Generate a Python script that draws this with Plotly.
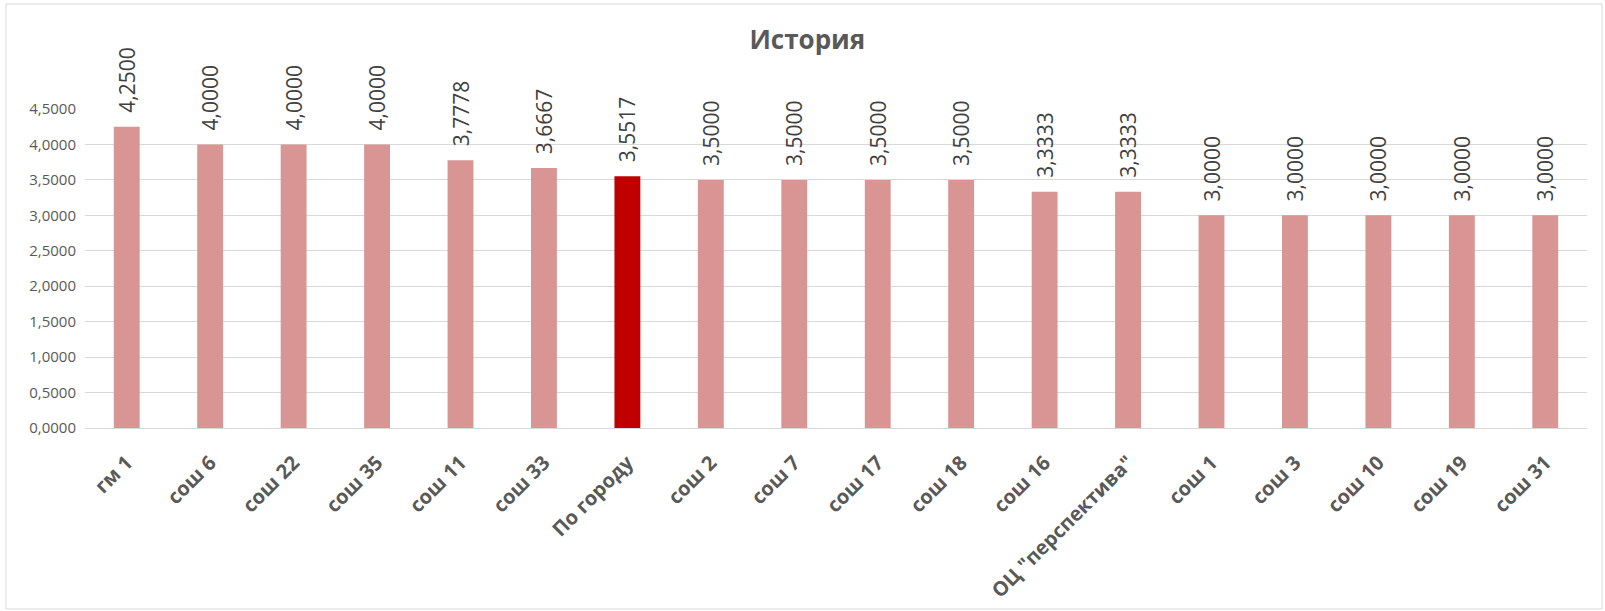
import plotly.graph_objects as go

categories = ["гм 1", "сош 6", "сош 22", "сош 35", "сош 11", "сош 33", "По городу",
              "сош 2", "сош 7", "сош 17", "сош 18", "сош 16", 'ОЦ "перспектива"',
              "сош 1", "сош 3", "сош 10", "сош 19", "сош 31"]
values = [4.25, 4.0, 4.0, 4.0, 3.7778, 3.6667, 3.5517, 3.5, 3.5, 3.5, 3.5,
          3.3333, 3.3333, 3.0, 3.0, 3.0, 3.0, 3.0]
highlight = "По городу"
y_ticks = [0, 0.5, 1.0, 1.5, 2.0, 2.5, 3.0, 3.5, 4.0, 4.5]

W, H = 1605, 611
ml, mr, mt, mb = 85, 18, 109, 183

colors = ["#C00000" if c == highlight else "#D99594" for c in categories]
labels = ["\u00a0\u00a0" + f"{v:.4f}".replace(".", ",") for v in values]

fig = go.Figure()
fig.add_trace(go.Bar(
    x=categories, y=values, marker=dict(color=colors, line=dict(width=0)),
    text=labels, textposition="outside", textangle=-90, cliponaxis=False,
    constraintext="none",
    textfont=dict(family="Open Sans", size=21, color="#404040"),
    hoverinfo="x+y",
))

pw = W - ml - mr
ph = H - mt - mb
fig.add_shape(type="rect", xref="paper", yref="paper",
              x0=(6 - ml) / pw, x1=(W - 3 - ml) / pw,
              y0=(H - mb - (H - 2)) / ph,
              y1=(H - mb - 4) / ph,
              line=dict(color="#D9D9D9", width=1), layer="below")

fig.update_layout(
    width=W, height=H,
    margin=dict(l=ml, r=mr, t=mt, b=mb, autoexpand=False),
    paper_bgcolor="white", plot_bgcolor="white",
    separators=",.",
    bargap=0.69,
    showlegend=False,
    title=dict(text="<b>История</b>", x=0.503, xref="container", xanchor="center",
               y=1 - 40 / H, yref="container", yanchor="middle",
               font=dict(family="Open Sans", size=26, color="#595959")),
    xaxis=dict(tickangle=-45, showgrid=False, showline=True, linecolor="#D9D9D9",
               linewidth=1, ticks="", automargin=False, ticklabelstandoff=14,
               tickfont=dict(family="Open Sans", size=20, color="#595959", weight="bold")),
    yaxis=dict(range=[0, 4.5], tickvals=y_ticks, tickformat=".4f",
               showgrid=True, gridcolor="#D9D9D9", gridwidth=1, zeroline=False,
               showline=False, ticks="", automargin=False, ticklabelstandoff=8,
               tickfont=dict(family="Open Sans", size=15, color="#595959")),
)

fig.write_html("out.html", config={"displayModeBar": False},
               post_script="document.body.style.margin='0';document.body.style.overflow='hidden';")
